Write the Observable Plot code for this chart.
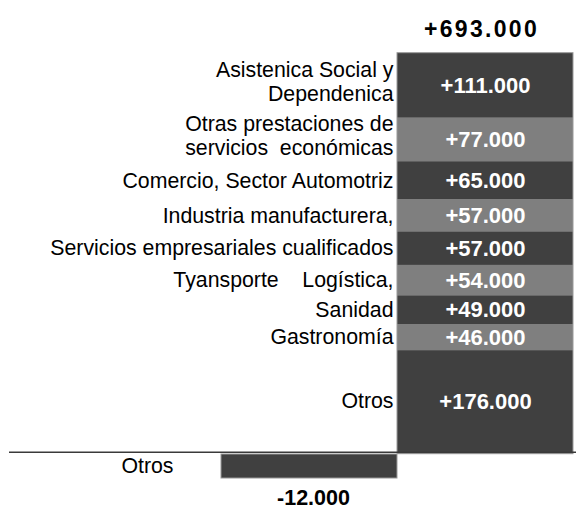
<!DOCTYPE html>
<html><head><meta charset="utf-8">
<script src="https://cdn.jsdelivr.net/npm/d3@7"></script>
<script src="https://cdn.jsdelivr.net/npm/@observablehq/plot@0.6"></script>
<style>html,body{margin:0;padding:0;background:#fff} svg{display:block}</style>
</head><body><div id="chart"></div>
<script>
// ---- data (thousands of jobs) ----
const categories = [
  "Asistenica Social y\nDependenica",
  "Otras prestaciones de\nservicios  económicas",
  "Comercio, Sector Automotriz",
  "Industria manufacturera,",
  "Servicios empresariales cualificados",
  "Tyansporte    Logística,",
  "Sanidad",
  "Gastronomía",
  "Otros"
];
const values = [111, 77, 65, 57, 57, 54, 49, 46, 176];
const total = 693;
const negativeCategory = "Otros";
const negativeValue = -12;

const fmt = v => (v > 0 ? "+" : v < 0 ? "-" : "") + d3.format(",")(Math.abs(v) * 1000).replace(/,/g, ".");

// stack from the bottom (last category sits on the baseline)
let acc = 0;
const rows = categories.map((c, i) => ({c, v: values[i], i, col: "pos"}))
  .reverse()
  .map(d => { const r = {...d, y1: acc, y2: acc + d.v}; acc += d.v; return r; });
const mid = d => (d.y1 + d.y2) / 2;
const DARK = "#404040", GREY = "#7f7f7f";
const font = "'Liberation Sans', Arial, sans-serif";
const LABEL_SIZE = 21.3;

const chart = Plot.plot({
  width: 576, height: 510,
  marginLeft: 9, marginRight: 0, marginTop: 0, marginBottom: 0,
  x: {type: "band", domain: ["neg", "pos"], range: [221, 573], padding: 0, axis: null},
  y: {domain: [0, total], range: [451.7, 52.7], axis: null},
  style: {fontFamily: font, background: "white", overflow: "visible"},
  marks: [
    Plot.barY([total], {x: () => "pos", y1: 0, y2: d => d, fill: DARK, insetBottom: -2}),
    Plot.barY(rows, {x: "col", y1: "y1", y2: "y2", fill: d => d.i % 2 === 0 ? DARK : GREY}),
    Plot.barY([total], {x: () => "pos", y1: 0, y2: d => d, fill: "none", stroke: "#9a9a9a", strokeWidth: 1, insetBottom: -2}),
    Plot.barY([negativeValue], {x: () => "neg", y1: 0, y2: d => d, fill: DARK, stroke: "#9a9a9a", strokeWidth: 1, insetTop: 2.3, insetBottom: -19.4}),
    Plot.ruleY([0], {stroke: "#3a3a3a", strokeWidth: 1.6}),
    // category labels
    Plot.text(rows, {filter: d => !d.c.includes("\n"), x: "col", y: mid, text: "c", textAnchor: "end", dx: -92, fontSize: LABEL_SIZE, fill: "#000"}),
    Plot.text(rows, {filter: d => d.c.includes("\n"), x: "col", y: mid, text: "c", textAnchor: "end", dx: -92, dy: -4.5, lineHeight: 1.13, fontSize: LABEL_SIZE, fill: "#000"}),
    // value labels
    Plot.text(rows, {x: "col", y: mid, text: d => fmt(d.v), fill: "white", fontWeight: "bold", fontSize: 22}),
    // total
    Plot.text([total], {x: () => "pos", y: d => d, text: d => fmt(d), dy: -24, dx: -4, fontWeight: "bold", fontSize: 23, fill: "#000"}),
    // negative
    Plot.text([negativeValue], {x: () => "neg", y: d => d, text: () => negativeCategory, textAnchor: "end", dx: -136, dy: 7.5, fontSize: LABEL_SIZE, fill: "#000"}),
    Plot.text([negativeValue], {x: () => "neg", y: d => d, text: d => fmt(d), dx: 4, dy: 39.5, fontWeight: "bold", fontSize: 21.5, fill: "#000"})
  ]
});
chart.querySelectorAll("text").forEach(t => {
  if (t.textContent === fmt(total)) t.setAttribute("letter-spacing", "2.3");
});
document.getElementById("chart").appendChild(chart);
</script>
</body></html>
